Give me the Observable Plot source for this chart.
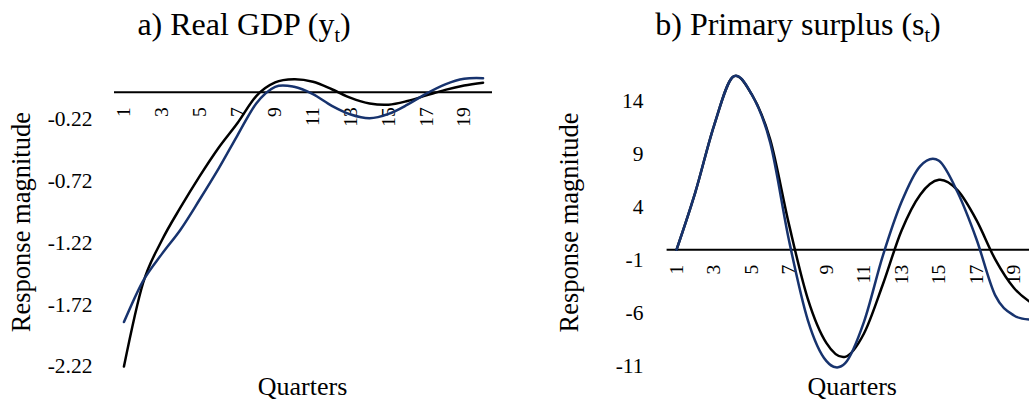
<!DOCTYPE html>
<html>
<head>
<meta charset="utf-8">
<script src="https://cdn.jsdelivr.net/npm/d3@7"></script>
<script src="https://cdn.jsdelivr.net/npm/@observablehq/plot@0.6"></script>
<style>
  html, body { margin: 0; padding: 0; background: #fff; width: 1029px; height: 401px; overflow: hidden; }
  #wrap { position: relative; width: 1029px; height: 401px; overflow: hidden;
          font-family: "Liberation Serif", "Times New Roman", serif; color: #000; }
  .panel { position: absolute; top: 0; }
  .title { position: absolute; top: 8px; font-size: 32px; line-height: 1; white-space: nowrap;
           transform: translateX(-50%); }
  .title .sub { font-size: 20px; position: relative; top: 7px; line-height: 0; }
</style>
</head>
<body>
<div id="wrap">
  <div class="title" style="left:244px">a) Real GDP (y<span class="sub">t</span>)</div>
  <div class="title" style="left:798px">b) Primary surplus (s<span class="sub">t</span>)</div>
</div>
<script>
// Horizon in quarters and the labelled ticks on the x axis
const quarters = [1, 2, 3, 4, 5, 6, 7, 8, 9, 10, 11, 12, 13, 14, 15, 16, 17, 18, 19, 20];
const quarterTicks = [1, 3, 5, 7, 9, 11, 13, 15, 17, 19];

// a) Real GDP responses
const gdpTicks = [-2.22, -1.72, -1.22, -0.72, -0.22];
const gdpBlack = [-2.22, -1.55, -1.20, -0.93, -0.68, -0.45, -0.25, -0.03, 0.08, 0.105, 0.085, 0.025, -0.045, -0.09, -0.10, -0.07, -0.025, 0.02, 0.055, 0.078];
const gdpBlue  = [-1.86, -1.53, -1.31, -1.11, -0.87, -0.62, -0.35, -0.09, 0.045, 0.045, -0.015, -0.11, -0.18, -0.21, -0.175, -0.10, -0.01, 0.065, 0.11, 0.115];

// b) Primary surplus responses
const surplusTicks = [-11, -6, -1, 4, 9, 14];
const surplusBlack = [0, 5.4, 11.7, 16.3, 14.7, 10.4, 2.4, -4.6, -8.8, -10.1, -7.9, -3.3, 1.8, 5.2, 6.6, 5.6, 2.8, -0.9, -3.6, -5.1];
const surplusBlue  = [0, 5.4, 11.7, 16.3, 14.7, 10.1, 0.9, -6.6, -10.5, -10.7, -6.8, -0.6, 4.5, 7.9, 8.4, 5.4, 1.0, -4.3, -6.2, -6.6];

const NAVY = "#17336e";
const FONT = '"Liberation Serif", "Times New Roman", serif';

function rows(values) {
  return quarters.map((q, i) => ({q, v: values[i]}));
}

function panel({left, width, marginLeft, marginRight, marginTop, marginBottom, yDomain, yTicks, tickFormat,
                tickDx, titleDx, titleDy, quartersDx, black, blue}) {
  const chart = Plot.plot({
    width, height: 401,
    marginLeft, marginRight, marginTop, marginBottom,
    style: {fontFamily: FONT, background: "transparent", overflow: "visible", color: "#000"},
    x: {domain: [0.5, 20.5], axis: null},
    y: {domain: yDomain, axis: null},
    marks: [
      // value labels on the left, no tick marks
      Plot.text(yTicks, {y: d => d, text: tickFormat, frameAnchor: "left", textAnchor: "end",
                         lineAnchor: "middle", dx: tickDx, fontSize: 21.5}),
      // horizontal axis drawn at zero
      Plot.ruleY([0], {stroke: "#000", strokeWidth: 2}),
      // quarter labels hanging below the zero line, rotated
      Plot.text(quarterTicks, {x: d => d, y: 0, text: d => String(d), rotate: -90, textAnchor: "end",
                               lineAnchor: "middle", dy: 15, fontSize: 19.5}),
      Plot.line(rows(black), {x: "q", y: "v", stroke: "#000", strokeWidth: 2.5, curve: "cardinal"}),
      Plot.line(rows(blue), {x: "q", y: "v", stroke: NAVY, strokeWidth: 2.5, curve: "cardinal"}),
      Plot.text(["Response magnitude"], {text: d => d, frameAnchor: "left", textAnchor: "middle",
                                         lineAnchor: "middle", rotate: -90,
                                         dx: titleDx, dy: titleDy, fontSize: 26.5}),
      Plot.text(["Quarters"], {text: d => d, frameAnchor: "bottom", textAnchor: "middle", lineAnchor: "middle",
                               dx: quartersDx, dy: 20, fontSize: 26})
    ]
  });
  chart.classList.add("panel");
  chart.style.left = left + "px";
  chart.style.maxWidth = "none";
  document.getElementById("wrap").appendChild(chart);
}

panel({
  left: 0, width: 515,
  marginLeft: 114, marginRight: 23, marginTop: 57.25, marginBottom: 35,
  yDomain: [-2.22, 0.28], yTicks: gdpTicks, tickFormat: d => d.toFixed(2),
  tickDx: -22, titleDx: -93, titleDy: 10, quartersDx: -1,
  black: gdpBlack, blue: gdpBlue
});

panel({
  left: 515, width: 545,
  marginLeft: 151.6, marginRight: 18.4, marginTop: 69.1, marginBottom: 35.1,
  yDomain: [-11, 17], yTicks: surplusTicks, tickFormat: d => String(d),
  tickDx: -23.6, titleDx: -97.3, titleDy: 4.5, quartersDx: -2.4,
  black: surplusBlack, blue: surplusBlue
});
</script>
</body>
</html>
